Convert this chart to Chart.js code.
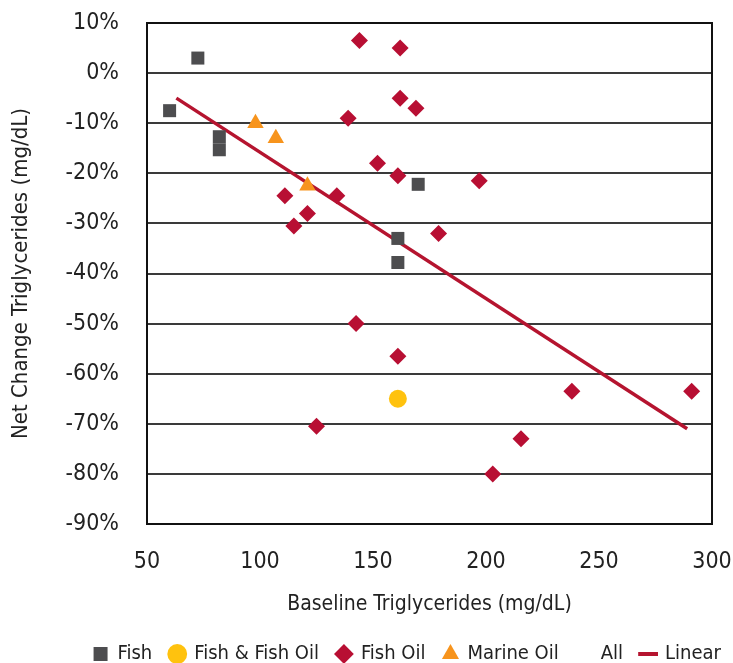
<!DOCTYPE html>
<html>
<head>
<meta charset="utf-8">
<script src="https://cdn.jsdelivr.net/npm/chart.js@4.4.1/dist/chart.umd.min.js"></script>
<style>
  html, body { margin: 0; padding: 0; background: #fff; }
  #wrap { width: 733px; height: 663px; }
</style>
</head>
<body>
<div id="wrap"><canvas id="chart"></canvas></div>
<script>
// Data (x = baseline mg/dL, y = net change %)
const fishX = [72.5, 60, 82, 82, 170, 161, 161];
const fishY = [3, -7.5, -12.7, -15.3, -22.2, -33, -37.8];

const fishAndOilX = [161];
const fishAndOilY = [-65];

const fishOilX = [144, 162, 162, 169, 139, 152, 161, 111, 134, 121, 115, 197, 179, 142.5, 161, 125, 238, 291, 215.5, 203];
const fishOilY = [6.5, 5, -5, -7, -9, -18, -20.5, -24.5, -24.5, -28, -30.5, -21.5, -32, -50, -56.5, -70.5, -63.5, -63.5, -73, -80];

const marineX = [98, 107, 121];
const marineY = [-10, -13, -22.5];

const trendX = [63, 289];
const trendY = [-5, -71];

const xTicks = [50, 100, 150, 200, 250, 300];
const yTicks = [10, 0, -10, -20, -30, -40, -50, -60, -70, -80, -90];

const FONT = '"Liberation Sans Narrow", "DejaVu Sans Condensed", sans-serif';

function pts(xs, ys) {
    return xs.map((x, i) => ({ x: x, y: ys[i] }));
}

const ctx = document.getElementById('chart').getContext('2d');

const chart = new Chart(ctx, {
    type: 'scatter',
    data: {
        datasets: [
            {
                label: 'Fish',
                data: pts(fishX, fishY),
                pointStyle: 'rect',
                pointRadius: 9.2,
                backgroundColor: '#4d4d4f',
                borderWidth: 0
            },
            {
                label: 'Fish & Fish Oil',
                data: pts(fishAndOilX, fishAndOilY),
                pointStyle: 'circle',
                pointRadius: 9,
                backgroundColor: '#ffc20e',
                borderWidth: 0
            },
            {
                label: 'Fish Oil',
                data: pts(fishOilX, fishOilY),
                pointStyle: 'rectRot',
                pointRadius: 8.5,
                backgroundColor: '#b80f33',
                borderWidth: 0
            },
            {
                label: 'Marine Oil',
                data: pts(marineX, marineY),
                pointStyle: 'triangle',
                pointRadius: 9.5,
                backgroundColor: '#f7941d',
                borderWidth: 0
            },
            {
                label: 'All',
                data: [],
                pointStyle: 'rect',
                pointRadius: 0,
                backgroundColor: 'rgba(0,0,0,0)',
                borderColor: 'rgba(0,0,0,0)',
                borderWidth: 0
            },
            {
                label: 'Linear',
                type: 'line',
                data: pts(trendX, trendY),
                borderColor: '#b5142f',
                backgroundColor: '#b5142f',
                borderWidth: 3.5,
                pointRadius: 0,
                pointStyle: 'line',
                fill: false
            }
        ]
    },
    options: {
        responsive: true,
        maintainAspectRatio: false,
        animation: false,
        layout: { padding: { left: 8, right: 21, top: 23, bottom: -11 } },
        plugins: {
            tooltip: { enabled: false },
            legend: {
                position: 'bottom',
                align: 'end',
                labels: {
                    usePointStyle: true,
                    boxHeight: 14,
                    boxWidth: 14,
                    padding: 18,
                    color: '#222',
                    font: { family: FONT, size: 20 },
                    generateLabels: function (chart) {
                        const items = Chart.defaults.plugins.legend.labels.generateLabels(chart);
                        items.forEach(item => {
                            if (item.text === 'Linear') {
                                item.pointStyle = 'line';
                                item.lineWidth = 4;
                                item.strokeStyle = '#b5142f';
                            }
                            if (item.text === 'All') {
                                item.fillStyle = 'rgba(0,0,0,0)';
                                item.strokeStyle = 'rgba(0,0,0,0)';
                                item.lineWidth = 0;
                            }
                        });
                        return items;
                    }
                }
            }
        },
        scales: {
            x: {
                type: 'linear',
                min: 50,
                max: 300,
                afterBuildTicks: function (axis) {
                    axis.ticks = xTicks.map(v => ({ value: v }));
                },
                afterFit: function (axis) {
                    axis.height = 102;
                    axis.paddingLeft = 0;
                    axis.paddingRight = 0;
                },
                grid: { display: false, drawTicks: false },
                border: { display: true, color: '#111', width: 2 },
                ticks: {
                    padding: 24,
                    color: '#222',
                    font: { family: FONT, size: 23 }
                },
                title: {
                    display: true,
                    text: 'Baseline Triglycerides (mg/dL)',
                    color: '#222',
                    font: { family: FONT, size: 21 },
                    padding: { top: 2, bottom: 9 }
                }
            },
            y: {
                type: 'linear',
                min: -90,
                max: 10,
                afterBuildTicks: function (axis) {
                    axis.ticks = yTicks.map(v => ({ value: v }));
                },
                afterFit: function (axis) {
                    axis.width = 139;
                    axis.paddingTop = 0;
                    axis.paddingBottom = 0;
                },
                grid: { color: '#3a3a3a', lineWidth: 2, drawTicks: false },
                border: { display: true, color: '#111', width: 2 },
                ticks: {
                    padding: 28,
                    color: '#222',
                    font: { family: FONT, size: 23 },
                    callback: v => v + '%'
                },
                title: {
                    display: true,
                    text: 'Net Change Triglycerides (mg/dL)',
                    color: '#222',
                    font: { family: FONT, size: 22 },
                    padding: { top: 0, bottom: 8 }
                }
            }
        }
    },
    plugins: [{
        id: 'frame',
        afterLayout: function (chart) {
            // push the legend row to the right, as in the original
            chart.legend.left += 27;
            chart.legend.right += 27;
        },
        afterDraw: function (chart) {
            const a = chart.chartArea;
            const c = chart.ctx;
            c.save();
            c.strokeStyle = '#111';
            c.lineWidth = 2;
            c.strokeRect(a.left, a.top, a.right - a.left, a.bottom - a.top);
            c.restore();
        }
    }]
});
</script>
</body>
</html>
